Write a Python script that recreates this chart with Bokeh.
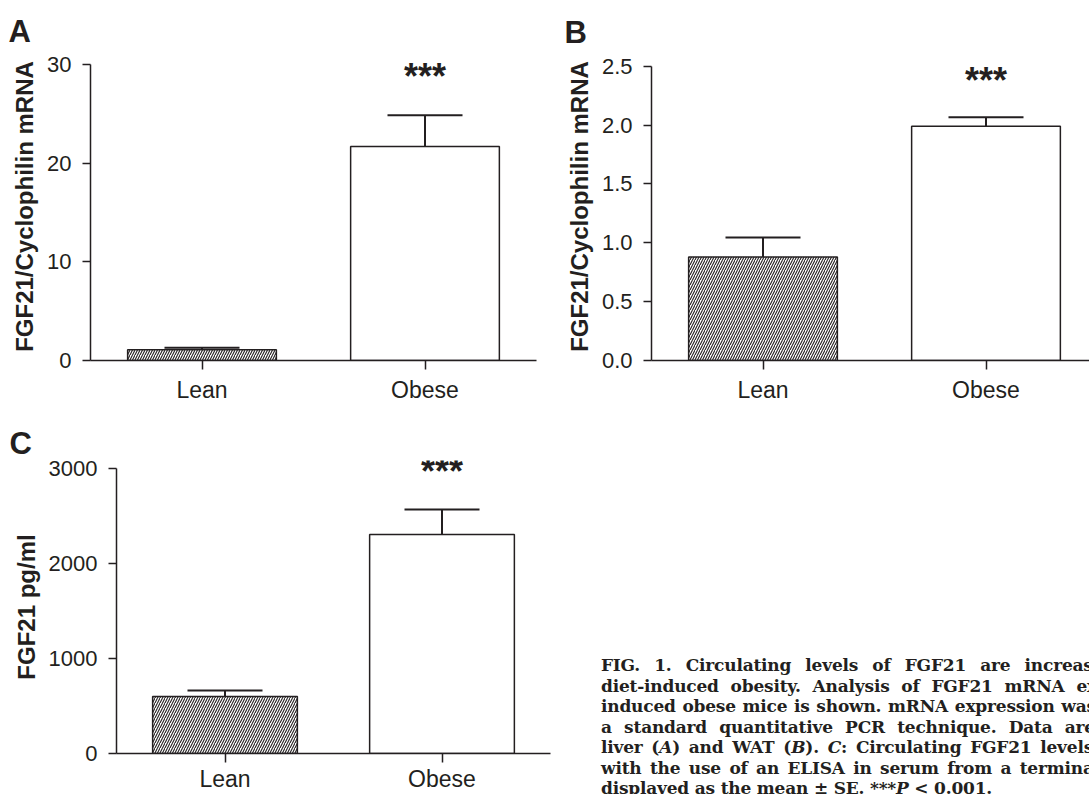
from bokeh.plotting import figure
from bokeh.models import (ColumnDataSource, Whisker, TeeHead, FixedTicker,
                          Range1d, NumeralTickFormatter, Div)
from bokeh.core.properties import value
from bokeh.layouts import row, column
from bokeh.embed import file_html
from bokeh.resources import INLINE

# ---------------- data ----------------
categories = ["Lean", "Obese"]
liver_mean = [1.1, 21.7]
liver_sem = [0.2, 3.15]
wat_mean = [0.88, 1.99]
wat_sem = [0.165, 0.077]
serum_mean = [600, 2306]
serum_sem = [62, 263]
liver_ticks = [0, 10, 20, 30]
wat_ticks = [0.0, 0.5, 1.0, 1.5, 2.0, 2.5]
serum_ticks = [0, 1000, 2000, 3000]
significance = ["", "***"]
caption_lines = [
    "FIG. 1. Circulating levels of FGF21 are increased",
    "diet-induced obesity. Analysis of FGF21 mRNA ex",
    "induced obese mice is shown. mRNA expression was",
    "a standard quantitative PCR technique. Data are",
    "liver (<i>A</i>) and WAT (<i>B</i>). <i>C</i>: Circulating FGF21 levels",
    "with the use of an ELISA in serum from a terminal",
    "displayed as the mean &plusmn; SE. ***<i>P</i> &lt; 0.001.",
]

INK = "#231f20"
SANS = "Liberation Sans"


def panel(letter, ylabel, means, sems, ticks, fmt, width, height, left, right,
          fig_top, tick_top, tick_bottom, pad, x_end, title_offset, title_standoff,
          star_dy, xlabel_standoff):
    xs = list(range(1, len(categories) + 1))
    border_top = tick_top - pad - fig_top
    frame_h = tick_bottom - tick_top + pad
    border_bottom = height - border_top - frame_h
    span = ticks[-1] - ticks[0]
    y_end = ticks[-1] + span * pad / (tick_bottom - tick_top)
    p = figure(width=width, height=height, x_range=Range1d(0.5, x_end),
               y_range=Range1d(ticks[0], y_end), output_backend="svg",
               toolbar_location=None, min_border_left=left, min_border_right=right,
               min_border_top=border_top, min_border_bottom=border_bottom,
               title=letter)
    p.title.text_font = SANS
    p.title.text_font_size = "31px"
    p.title.text_font_style = "bold"
    p.title.text_color = INK
    p.title.align = "left"
    p.title.offset = title_offset
    p.title.standoff = title_standoff

    p.xgrid.grid_line_color = None
    p.ygrid.grid_line_color = None
    p.outline_line_color = None
    p.background_fill_color = "white"
    p.border_fill_color = "white"

    xa = p.xaxis[0]
    xa.ticker = FixedTicker(ticks=xs)
    xa.major_label_overrides = {x: c for x, c in zip(xs, categories)}
    xa.minor_tick_line_color = None
    xa.major_tick_in = 0
    xa.major_tick_out = 9
    xa.major_label_standoff = xlabel_standoff
    xa.major_label_text_font = SANS
    xa.major_label_text_font_size = "23px"
    xa.major_label_text_color = INK
    xa.axis_line_width = 1.5
    xa.axis_line_color = INK
    xa.major_tick_line_width = 1.5
    xa.major_tick_line_color = INK

    ya = p.yaxis[0]
    ya.bounds = (ticks[0], ticks[-1])
    ya.ticker = FixedTicker(ticks=ticks)
    ya.formatter = NumeralTickFormatter(format=fmt)
    ya.minor_tick_line_color = None
    ya.major_tick_in = 0
    ya.major_tick_out = 8
    ya.major_label_standoff = 11
    ya.major_label_text_font = SANS
    ya.major_label_text_font_size = "22px"
    ya.major_label_text_color = INK
    ya.axis_line_width = 1.5
    ya.axis_line_color = INK
    ya.major_tick_line_width = 1.5
    ya.major_tick_line_color = INK
    ya.axis_label = ylabel
    ya.axis_label_text_font = SANS
    ya.axis_label_text_font_size = "24px"
    ya.axis_label_text_font_style = "bold"
    ya.axis_label_text_color = INK
    ya.axis_label_standoff = 6

    # hatched Lean bar, open Obese bar
    p.vbar(x=xs[:1], top=means[:1], width=0.667, bottom=0, fill_color="white",
           line_color=INK, line_width=1.5, hatch_pattern="/", hatch_color=INK,
           hatch_scale=5, hatch_weight=1.1)
    p.vbar(x=xs[1:], top=means[1:], width=0.667, bottom=0, fill_color="white",
           line_color=INK, line_width=1.5)

    src = ColumnDataSource(dict(
        base=xs,
        upper=[m + s for m, s in zip(means, sems)],
        lower=[m - s for m, s in zip(means, sems)],
    ))
    w = Whisker(base="base", upper="upper", lower="lower", source=src,
                line_color=INK, line_width=2,
                upper_head=TeeHead(size=75, line_width=2, line_color=INK),
                lower_head=TeeHead(size=75, line_width=2, line_color=INK))
    p.add_layout(w)

    p.text(x=xs, y=[ticks[-1]] * len(xs), text=significance, y_offset=star_dy,
           text_align="center", text_baseline="middle",
           text_font=value(SANS), text_font_size="36px",
           text_font_style="bold", text_color=INK)
    return p


pA = panel("A", "FGF21/Cyclophilin mRNA", liver_mean, liver_sem, liver_ticks, "0",
           560, 408, 90, 24, 0, 64, 360, 12, 2.5, -82, 7, 11.7, 7)
pB = panel("B", "FGF21/Cyclophilin mRNA", wat_mean, wat_sem, wat_ticks, "0.0",
           529, 408, 91, 0, 0, 62, 360, 14, 0.5 + 438 / 223, -87, 5, 13.7, 7)
pC = panel("C", "FGF21 pg/ml", serum_mean, serum_sem, serum_ticks, "0",
           580, 386, 116, 30, 408, 468, 754, 8, 2.5, -107, 0, 3.3, 3)

line_widths = [514, 496, 495, 494, 492, 499, 600]
line_html = []
for i, ln in enumerate(caption_lines):
    last = i == len(caption_lines) - 1
    align = "left" if last else "justify"
    line_html.append(
        '<div style="white-space:nowrap;width:%dpx;text-align:%s;'
        'text-align-last:%s;">%s</div>' % (line_widths[i], align, align, ln))

caption_html = (
    '<div style="position:relative;width:509px;height:386px;overflow:hidden;">'
    '<div style="position:absolute;left:16px;top:242px;'
    "font-family:'DejaVu Serif';font-weight:bold;font-size:17px;"
    'letter-spacing:-0.2px;line-height:20.5px;color:%s;">%s</div></div>'
    % (INK, "".join(line_html))
)
caption = Div(text=caption_html, width=509, height=386,
              styles={"overflow": "hidden"})

layout = column(row(pA, pB), row(pC, caption))

open("out.html", "w").write(file_html(layout, INLINE))
